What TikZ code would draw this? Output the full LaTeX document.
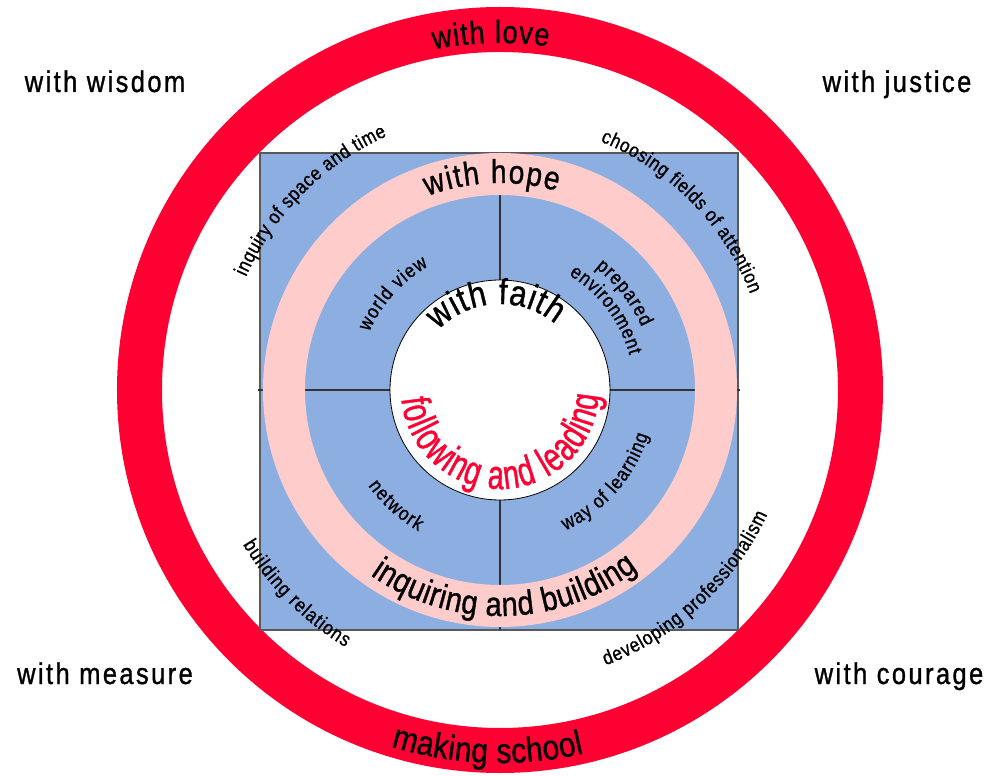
\documentclass[tikz,border=0pt]{standalone}
\usepackage{fontspec}
\setmainfont{Liberation Sans}[FakeStretch=0.85,FakeBold=1]
\newfontfamily\narrowfamily{Liberation Sans}[FakeStretch=0.7,FakeBold=1]
\newfontfamily\cornerfamily{Liberation Sans}[FakeStretch=0.85,FakeBold=1,LetterSpace=8]
\usetikzlibrary{decorations.text}

\definecolor{ringred}{RGB}{255,0,51}
\definecolor{fieldblue}{RGB}{140,174,224}
\definecolor{ringpink}{RGB}{255,204,204}

\newcommand{\cornersize}{\cornerfamily\fontsize{30}{32}\selectfont}
\newcommand{\lovesize}{\fontsize{32}{33}\selectfont}
\newcommand{\schoolsize}{\fontsize{35}{36}\selectfont}
\newcommand{\hopesize}{\fontsize{33}{34}\selectfont}
\newcommand{\buildsize}{\fontsize{34}{35}\selectfont}
\newcommand{\faithsize}{\fontsize{36}{37}\selectfont}
\newcommand{\leadsize}{\narrowfamily\fontsize{41}{42}\selectfont}
\newcommand{\fieldsize}{\fontsize{20}{21}\selectfont}

\tikzset{
  arctext/.style={decorate, decoration={text along path, text align=fit to path}},
  cornerlabel/.style={anchor=base, font=\cornersize},
  crossline/.style={draw=black!80, line width=1.2pt},
}

\begin{document}
\begin{tikzpicture}[x=1pt, y=1pt]

% Rahmen
\path[use as bounding box, fill=white] (-500,-386) rectangle (504,390);
\coordinate (mid) at (0,0);

% Roter Ring
\fill[ringred, even odd rule] (mid) circle (383) (mid) circle (338);

% Quadrat
\filldraw[fill=fieldblue, draw=black!65, line width=1.2pt]
    (-240,-240) rectangle (238,237);

% Achsen
\draw[crossline] (-242,0) -- (240,0);
\draw[crossline] (0,-240) -- (0,237);

% Rosa Ring
\fill[ringpink, even odd rule] (mid) circle (237) (mid) circle (195);

% Kern
\filldraw[fill=white, draw=black, line width=0.8pt] (mid) circle (110);

% Ecken
\node[cornerlabel] (wisdom)  at (-395,298)  {with wisdom};
\node[cornerlabel] (justice) at (397,298)   {with justice};
\node[cornerlabel] (measure) at (-395,-294) {with measure};
\node[cornerlabel] (courage) at (399,-294)  {with courage};

% Roter Ring, Texte
\path[arctext, decoration={text={|\lovesize|with love}}]
    (101:347) arc[start angle=101, end angle=82, radius=347];
\path[arctext, decoration={text={|\schoolsize|making school}}]
    (253:373) arc[start angle=253, end angle=283, radius=373];

% Rosa Ring, Texte
\path[arctext, decoration={text={|\hopesize|with hope}}]
    (110.5:207) arc[start angle=110.5, end angle=74, radius=207];
\path[arctext, decoration={text={|\buildsize|inquiring and building}}]
    (235:226) arc[start angle=235, end angle=307.5, radius=226];

% Kern, Texte
\path[arctext, decoration={text={|\faithsize|with faith}}]
    (136:86) arc[start angle=136, end angle=50, radius=86];
\path[arctext, decoration={text={|\leadsize|following and leading}, text color=ringred}]
    (185:99) arc[start angle=185, end angle=357, radius=99];

% Felder
\path[arctext, decoration={text={|\fieldsize|world view}}]
    (156:143) arc[start angle=156, end angle=120, radius=143];
\path[arctext, decoration={text={|\fieldsize|prepared}}]
    (52:155) arc[start angle=52, end angle=24, radius=155];
\path[arctext, decoration={text={|\fieldsize|environment}}]
    (59:134) arc[start angle=59, end angle=15, radius=134];
\path[arctext, decoration={text={|\fieldsize|network}}]
    (216:163) arc[start angle=216, end angle=240, radius=163];
\path[arctext, decoration={text={|\fieldsize|way of learning}}]
    (295:155) arc[start angle=295, end angle=343, radius=155];

% Quadrat, Ecktexte
\path[arctext, decoration={text={|\fieldsize|inquiry of space and time}}]
    (156:278) arc[start angle=156, end angle=114, radius=278];
\path[arctext, decoration={text={|\fieldsize|choosing fields of attention}}]
    (68:268) arc[start angle=68, end angle=21, radius=268];
\path[arctext, decoration={text={|\fieldsize|building relations}}]
    (211:300) arc[start angle=211, end angle=239, radius=300];
\path[arctext, decoration={text={|\fieldsize|developing professionalism}}]
    (291:295) arc[start angle=291, end angle=335, radius=295];

\end{tikzpicture}
\end{document}
